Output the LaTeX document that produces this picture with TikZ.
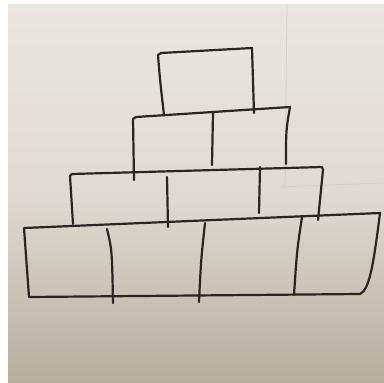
\documentclass[tikz,border=0pt]{standalone}
\begin{document}
\begin{tikzpicture}[x=1pt,y=-1pt,
  ink/.style={draw=inkc,line width=2.2pt,line cap=round,line join=round},
  faint/.style={draw=faintc,line width=0.8pt}]
\definecolor{inkc}{HTML}{2A2521}
\definecolor{faintc}{HTML}{D2CEC7}
\definecolor{ptop}{HTML}{EAE7E2}
\definecolor{pmid}{HTML}{DEDAD1}
\definecolor{pbot}{HTML}{B6AE9E}
\useasboundingbox (0,0) rectangle (384,383);
\fill[white] (0,0) rectangle (384,383);
\shade[top color=ptop,bottom color=pmid] (8,4) rectangle (384,200.5);
\shade[top color=pmid,bottom color=pbot] (8,200) rectangle (384,382);
% faint paper marks
\draw[faint] (287,4) -- (285,186);
\draw[faint] (280,187) -- (384,183);
% top box
\draw[ink] (164,115) .. controls (160,80) .. (158,55) -- (161,53) -- (252,48) .. controls (253,80) .. (254,113);
% row 2
\draw[ink] (134,180) -- (133,119) -- (136,117) -- (290,107) .. controls (286,130) .. (286,164);
\draw[ink] (213,113) -- (212,165);
% row 3
\draw[ink] (73,224) -- (70,176) -- (72,174) -- (322,167) -- (323,170) .. controls (320,195) .. (318,220);
\draw[ink] (167,177) -- (168,227);
\draw[ink] (260,167) -- (259,213);
% row 4
\draw[ink] (24,228) -- (380,213) .. controls (374,260) and (370,290) .. (360,294) -- (29,297) -- (24,228);
\draw[ink] (107,229) .. controls (112,250) .. (113,303);
\draw[ink] (205,223) .. controls (201,260) .. (199,302);
\draw[ink] (302,217) .. controls (297,250) .. (294,295);
\end{tikzpicture}
\end{document}
